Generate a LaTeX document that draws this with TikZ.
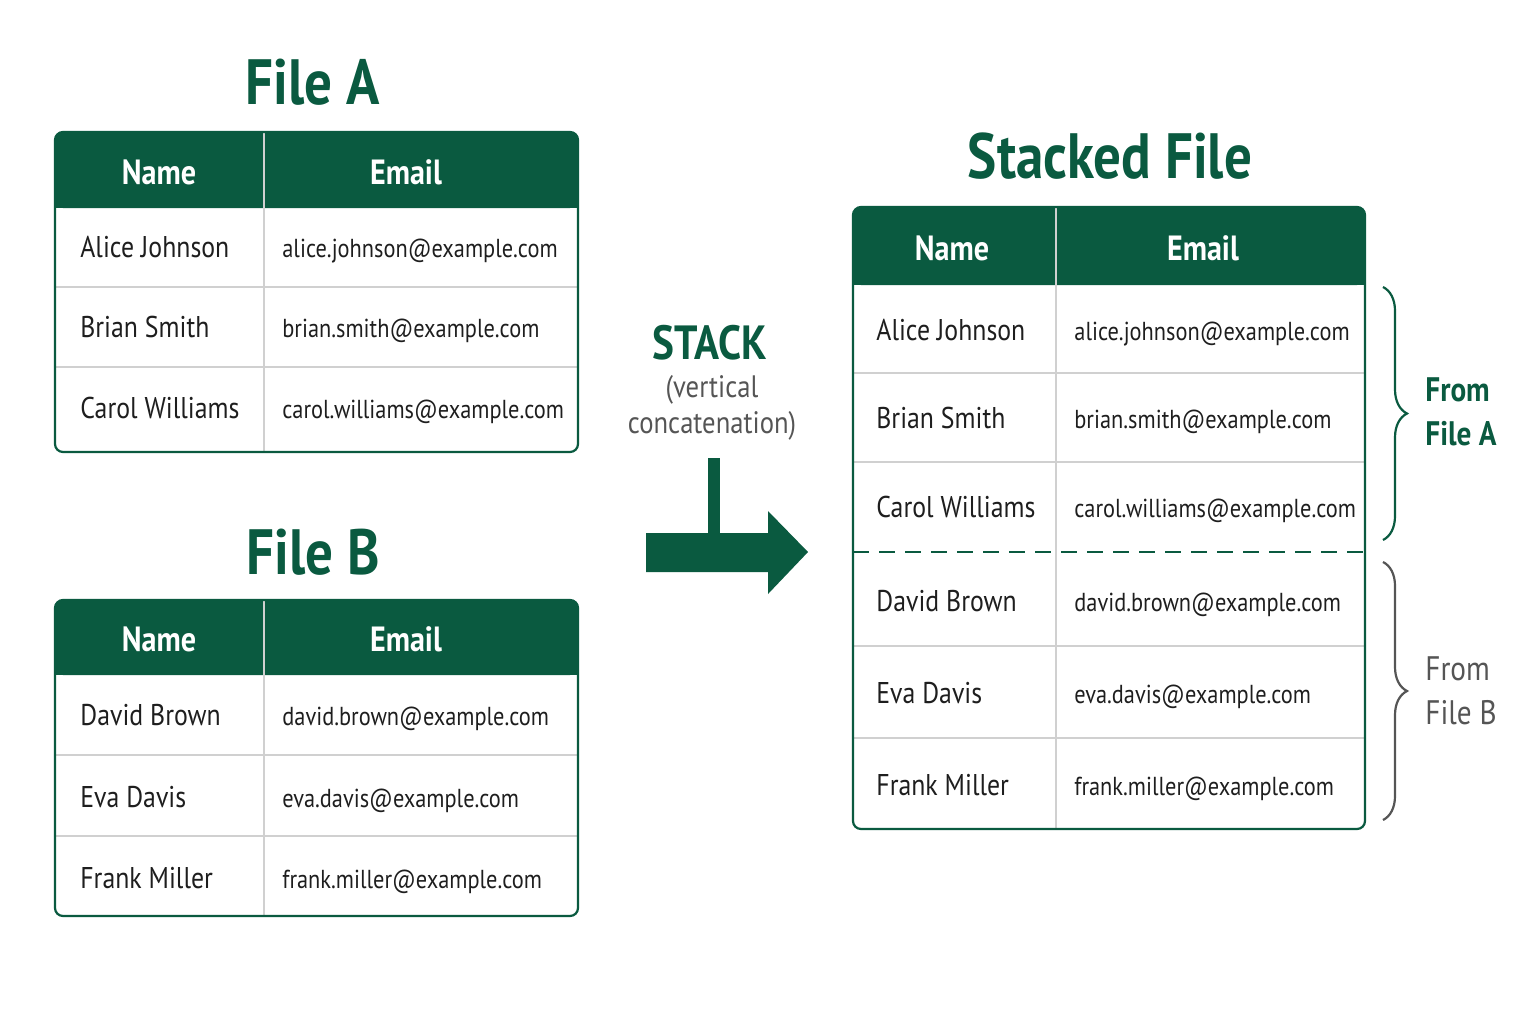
\documentclass[tikz,border=0pt]{standalone}
\usepackage{fontspec}
\setmainfont[FakeStretch=0.86]{PT Sans}
\usetikzlibrary{decorations.pathreplacing, positioning}
\definecolor{headFl}{HTML}{0A5A40}
\definecolor{rowLn}{HTML}{D0D0D0}
\definecolor{cellTx}{HTML}{1E1E1E}
\definecolor{noteTx}{HTML}{555555}
\definecolor{fromB}{HTML}{555555}
\newcommand{\ttl}{\fontsize{32}{36}\selectfont\bfseries}
\newcommand{\cell}{\fontsize{15}{17}\selectfont}
\newcommand{\mail}{\fontsize{13}{15}\selectfont}

\begin{document}
\begin{tikzpicture}[
  x=0.5pt, y=-0.5pt,
  title/.style={font=\ttl, text=headFl, inner sep=0pt},
  hcell/.style={font=\fontsize{17.5}{19}\selectfont\bfseries, text=white, inner sep=0pt},
  ncell/.style={font=\cell, text=cellTx, anchor=base west, inner sep=0pt},
  ecell/.style={font=\mail, text=cellTx, anchor=base west, inner sep=0pt},
  frame/.style={draw=headFl, line width=1.1pt, rounded corners=4pt},
  head/.style={fill=headFl, rounded corners=4pt},
  rowline/.style={draw=rowLn, line width=0.9pt},
  brace/.style={decorate, decoration={brace, amplitude=12pt}, line width=1.1pt},
]
\useasboundingbox (0,0) rectangle (1536,1024);

% ---------------------------- titles --------------------------------------
\node[title] (titleA) at (313,82)  {File A};
\node[title] (titleB) at (313,552) {File B};
\node[title] (titleS) at (1110,156) {Stacked File};

% ---------------------------- file A --------------------------------------
\fill[head] (55,132) rectangle (578,208);
\fill[headFl] (55,180) rectangle (578,208);
\draw[rowline] (55,287) -- (578,287) (55,367) -- (578,367);
\draw[rowline] (264,132) -- (264,452);
\draw[frame] (55,132) rectangle (578,452);
\node[hcell] (aName)  at (159,172) {Name};
\node[hcell] (aEmail) at (406,172) {Email};
\foreach \y/\n/\m [count=\i] in {247/Alice Johnson/alice.johnson,
                                 327/Brian Smith/brian.smith,
                                 408/Carol Williams/carol.williams} {
  \node[ncell] (aN\i) at (80,\y+10)  {\n};
  \node[ecell] (aE\i) at (282,\y+10) {\m @example.com};
}

% ---------------------------- file B --------------------------------------
\fill[head] (55,600) rectangle (578,675);
\fill[headFl] (55,650) rectangle (578,675);
\draw[rowline] (55,755) -- (578,755) (55,836) -- (578,836);
\draw[rowline] (264,600) -- (264,916);
\draw[frame] (55,600) rectangle (578,916);
\node[hcell] (bName)  at (159,639) {Name};
\node[hcell] (bEmail) at (406,639) {Email};
\foreach \y/\n/\m [count=\i] in {715/David Brown/david.brown,
                                 797/Eva Davis/eva.davis,
                                 878/Frank Miller/frank.miller} {
  \node[ncell] (bN\i) at (80,\y+10)  {\n};
  \node[ecell] (bE\i) at (282,\y+10) {\m @example.com};
}

% ---------------------------- the operation -------------------------------
\node[font=\fontsize{24}{26}\selectfont\bfseries, text=headFl, inner sep=0pt]
  (stack) at (710,343) {STACK};
\node[font=\fontsize{15.5}{18}\selectfont, text=noteTx, align=center, inner sep=0pt]
  (stackSub) at (712,408) {(vertical\\concatenation)};
\fill[headFl] (708,458) rectangle (720,535);
\fill[headFl] (646,533) -- (768,533) -- (768,511) -- (808,552)
  -- (768,594) -- (768,572) -- (646,572) -- cycle;

% ---------------------------- stacked file --------------------------------
\fill[head] (853,207) rectangle (1365,285);
\fill[headFl] (853,255) rectangle (1365,285);
\draw[rowline] (853,373) -- (1365,373) (853,462) -- (1365,462)
               (853,646) -- (1365,646) (853,738) -- (1365,738);
\draw[rowline] (1056,207) -- (1056,829);
\draw[draw=headFl, line width=1.1pt, dash pattern=on 8pt off 5pt] (853,552) -- (1365,552);
\draw[frame] (853,207) rectangle (1365,829);
\node[hcell] (sName)  at (952,248)  {Name};
\node[hcell] (sEmail) at (1203,248) {Email};
\foreach \y/\n/\m [count=\i] in {330/Alice Johnson/alice.johnson,
                                 418/Brian Smith/brian.smith,
                                 507/Carol Williams/carol.williams,
                                 601/David Brown/david.brown,
                                 693/Eva Davis/eva.davis,
                                 785/Frank Miller/frank.miller} {
  \node[ncell] (sN\i) at (876,\y+10)  {\n};
  \node[ecell] (sE\i) at (1074,\y+10) {\m @example.com};
}

% ---------------------------- where the rows came from --------------------
\coordinate (bAtop) at (1383,287);
\coordinate (bAbot) at (1383,540);
\coordinate (bBtop) at (1383,562);
\coordinate (bBbot) at (1383,820);
\draw[brace, draw=headFl] (bAtop) -- (bAbot);
\draw[brace, draw=fromB]  (bBtop) -- (bBbot);
\node[font=\fontsize{17}{22}\selectfont\bfseries, text=headFl, align=left,
      anchor=west, inner sep=0pt] (fromA) at (1425,412) {From\\File A};
\node[font=\fontsize{17}{22}\selectfont, text=fromB, align=left,
      anchor=west, inner sep=0pt] (fromBl) at (1425,691) {From\\File B};

\end{tikzpicture}
\end{document}
